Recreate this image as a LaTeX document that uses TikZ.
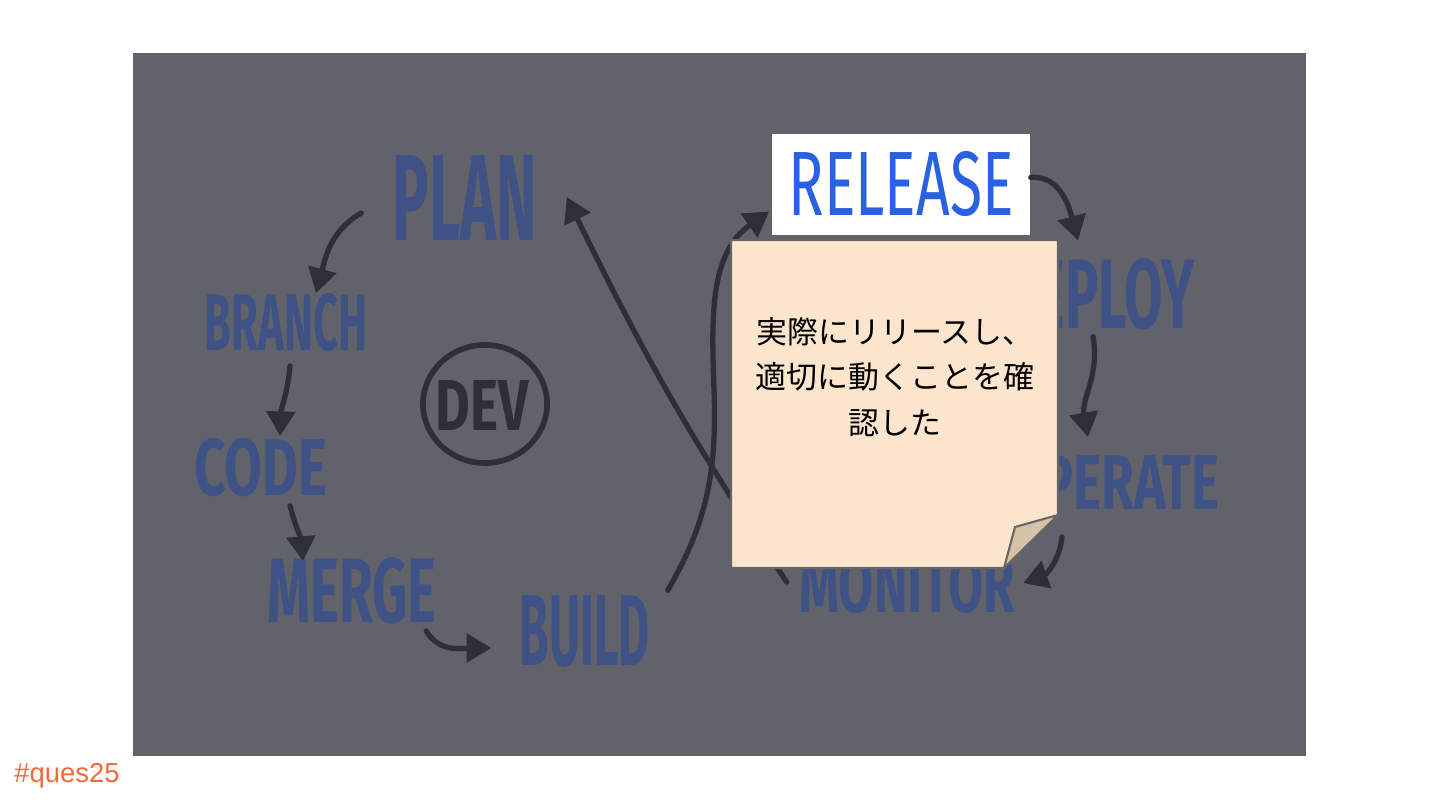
\documentclass[tikz,border=0pt]{standalone}
\usepackage{fontspec}
\setsansfont{Fira Sans}
\newfontfamily\jpfont{Noto Sans CJK JP}
\newfontfamily\tagfont{Liberation Sans}
\usetikzlibrary{arrows.meta}

\definecolor{slate}{RGB}{98,98,107}
\definecolor{ink}{RGB}{46,47,56}
\definecolor{chalk}{RGB}{63,82,133}
\definecolor{relblue}{RGB}{42,96,226}
\definecolor{paper}{RGB}{252,229,205}
\definecolor{paperfold}{RGB}{214,194,166}
\definecolor{quesorange}{RGB}{240,105,58}

% word squeezed into a box of w x h (cm)
\newcommand{\hand}[3]{\resizebox{#1cm}{#2cm}{#3}}

\begin{document}
\begin{tikzpicture}[x=0.01cm,y=0.01cm,
    chalkword/.style={text=chalk,font=\sffamily\bfseries,inner sep=0},
    flow/.style={draw=ink,line width=1.5pt,line cap=round,
                 -{Triangle[length=7pt,width=8pt]}}]
      \useasboundingbox (0,0) rectangle (1440,810);
      \fill[slate] (133,54) rectangle (1306,757);
%
      \node[chalkword] (plan)    at (465,612)  {\hand{1.44}{0.85}{PLAN}};
      \node[chalkword] (branch)  at (286,487)  {\hand{1.62}{0.57}{BRANCH}};
      \node[chalkword] (code)    at (261,342)  {\hand{1.33}{0.57}{CODE}};
      \node[chalkword] (merge)   at (352,219)  {\hand{1.69}{0.65}{MERGE}};
      \node[chalkword] (build)   at (585,179)  {\hand{1.30}{0.70}{BUILD}};
      \node[chalkword] (deploy)  at (1097,516) {\hand{1.95}{0.70}{DEPLOY}};
      \node[chalkword] (operate) at (1112,327) {\hand{2.15}{0.55}{OPERATE}};
      \node[chalkword] (monitor) at (907,225)  {\hand{2.15}{0.57}{MONITOR}};
%
      \node[text=ink,font=\sffamily\bfseries,inner sep=0] (dev) at (482,404) {\hand{0.93}{0.50}{DEV}};
      \draw[ink,line width=1.6pt] (485,406) ellipse (0.62cm and 0.59cm);
%
      \draw[flow] ([shift={(-31,-15)}]plan.west) to[out=210,in=75] ([shift={(30,0)}]branch.north);
      \draw[flow] ([shift={(4,-13)}]branch.south) to[out=265,in=88] ([shift={(19,2)}]code.north);
      \draw[flow] ([shift={(29,-8)}]code.south) to[out=285,in=95] ([shift={(-49,-4)}]merge.north);
      \draw[flow] ([shift={(-11,-6)}]merge.south east) to[out=-60,in=180] ([shift={(-28,-17)}]build.west);
%
      \node[fill=white,minimum width=2.58cm,minimum height=1.01cm,inner sep=0] (release) at (901,625.5)
            {\color{relblue}\sffamily\hand{2.25}{0.64}{RELEASE}};
      \coordinate (upturn) at (714,420);
      \draw[flow] ([shift={(17,4)}]build.north east) to[out=60,in=-88] (upturn)
            to[out=92,in=215] ([shift={(-2,-27)}]release.west);
      \draw[flow] ([shift={(-12,3)}]monitor.west) to[out=124,in=-64] ([shift={(29,1)}]plan.east);
      \draw[flow] ([yshift=2]release.east) to[out=5,in=105] ([shift={(-19,17)}]deploy.north);
      \draw[flow] ([shift={(-4,-6)}]deploy.south) to[out=-80,in=100] ([shift={(-24,17)}]operate.north);
      \draw[flow] ([shift={(-50,-25)}]operate.south) to[out=-95,in=20] ([shift={(8,2)}]monitor.east);
%
      \filldraw[fill=paper,draw=black!60,line width=0.6pt]
            (731,570) -- (1058,570) -- (1058,295) -- (1004,242) -- (731,242) -- cycle;
      \filldraw[fill=paperfold,draw=black!60,line width=0.6pt]
            (1058,295) -- (1015,283) -- (1004,242) -- cycle;
      \node[font={\jpfont\fontsize{8.8pt}{13pt}\selectfont},align=center] (memo) at (895,433)
            {実際にリリースし、\\適切に動くことを確\\認した};
%
      \node[font={\tagfont\fontsize{7.8pt}{9pt}\selectfont},text=quesorange] (tag) at (67,34) {\#ques25};
\end{tikzpicture}
\end{document}
